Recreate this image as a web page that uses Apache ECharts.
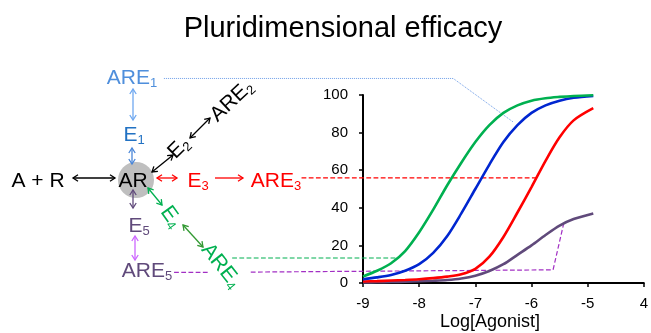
<!DOCTYPE html>
<html>
<head>
<meta charset="utf-8">
<script src="https://cdn.jsdelivr.net/npm/echarts@6/dist/echarts.min.js"></script>
<style>
  html, body { margin: 0; padding: 0; background: #fff; }
  #chart { width: 651px; height: 333px; }
</style>
</head>
<body>
<div id="chart"></div>
<script>
// log[agonist] sample points
const logAgonist = [-9, -8.75, -8.5, -8.25, -8, -7.75, -7.5, -7.25, -7, -6.75, -6.5, -6.25, -6, -5.75, -5.5, -5.25, -4.9];
const greenResp = [3.5, 6.5, 10.5, 17, 27, 39, 52, 64, 75, 84, 90.5, 94.5, 97, 98.3, 99, 99.5, 99.9];
const blueResp = [2, 3, 4.3, 6.5, 10, 16, 25, 37, 50, 63, 75, 84, 90.5, 94.5, 97, 98.5, 99.5];
const redResp = [0.8, 1, 1.3, 1.6, 2, 2.6, 3.4, 4.6, 7.5, 14, 24.5, 37.5, 51, 65, 77.5, 86.5, 93];
const purpleResp = [0.3, 0.4, 0.5, 0.7, 0.9, 1.2, 1.6, 2.4, 3.9, 6.4, 10, 15, 20, 25.5, 30.5, 34, 37];

const xTickLabels = ['-9', '-8', '-7', '-6', '-5', '4'];
const yTicks = [0, 20, 40, 60, 80, 100];

// connector lines from the scheme labels to the curves (same log scale, run left of the plot)
const blueLink = [[-12.53, 108.8], [-7.4, 108.8], [-6.34, 85.7]];
const redLink = [[-10.09, 55.9], [-5.91, 55.9]];
const greenLink = [[-11.32, 13.3], [-8.4, 13.3]];
const purpleLinkA = [[-12.35, 5.6], [-11.73, 5.7]];
const purpleLinkB = [[-10.99, 5.8], [-5.63, 7.0], [-5.44, 31.8]];

const FONT = 'Liberation Sans';
const PLOT_LEFT = 363, PLOT_RIGHT = 6;
// wide hidden axis sharing the plot's px-per-unit, so the connectors can reach the scheme
const wideMin = -9 - PLOT_LEFT * 5 / (651 - PLOT_LEFT - PLOT_RIGHT);

const pair = (ys) => logAgonist.map((x, i) => [x, ys[i]]);

function arrow(x1, y1, x2, y2, color, both) {
  const dx = x2 - x1, dy = y2 - y1;
  const len = Math.sqrt(dx * dx + dy * dy);
  const ux = dx / len, uy = dy / len;
  const L = 5, W = 3.2;
  const head = (tx, ty, sx, sy) => ({
    type: 'polyline',
    shape: { points: [
      [tx - L * sx - W * sy, ty - L * sy + W * sx],
      [tx, ty],
      [tx - L * sx + W * sy, ty - L * sy - W * sx]
    ] },
    style: { stroke: color, lineWidth: 1.3, fill: null }
  });
  const els = [
    { type: 'line', shape: { x1, y1, x2, y2 }, style: { stroke: color, lineWidth: 1.3 } },
    head(x2, y2, ux, uy)
  ];
  if (both) els.push(head(x1, y1, -ux, -uy));
  return els;
}

function label(text, x, y, color, rotation) {
  return {
    type: 'text',
    x, y,
    rotation: rotation || 0,
    style: {
      text,
      fill: color,
      fontSize: 21,
      fontFamily: FONT,
      lineHeight: 24,
      align: 'center',
      verticalAlign: 'middle',
      rich: {
        s: { fontSize: 13, fontFamily: FONT, lineHeight: 13, verticalAlign: 'bottom', fill: color }
      }
    }
  };
}

const scheme = [
  { type: 'circle', shape: { cx: 136, cy: 180, r: 18 }, style: { fill: '#bfbfbf' } },
  label('A + R', 38, 181, '#000'),
  label('AR', 133, 181, '#000'),
  label('ARE{s|1}', 132, 78, '#4f8fdc'),
  label('E{s|1}', 134, 135, '#2272c3'),
  label('E{s|2}', 179, 148, '#000', 0.78),
  label('ARE{s|2}', 232, 101, '#000', 0.75),
  label('E{s|3}', 198, 181, '#ff0000'),
  label('ARE{s|3}', 276, 181, '#ff0000'),
  label('E{s|4}', 171, 217, '#00b050', -0.95),
  label('ARE{s|4}', 221, 266, '#00b050', -0.9),
  label('E{s|5}', 139, 226, '#604a7b'),
  label('ARE{s|5}', 147, 271, '#604a7b'),
  ...arrow(133, 89, 133, 120, '#6fa8f0', true),
  ...arrow(132, 148, 132, 164, '#4a86d8', true),
  ...arrow(73, 178, 115, 178, '#000', true),
  ...arrow(152, 172, 173, 155, '#000', true),
  ...arrow(190, 138, 210, 118, '#000', true),
  ...arrow(157, 178, 177, 178, '#ff0000', true),
  ...arrow(215, 178, 243, 178, '#ff0000', false),
  ...arrow(133, 190, 133, 208, '#604a7b', true),
  ...arrow(135, 236, 135, 260, '#cc66ff', true),
  ...arrow(148, 188, 162, 205, '#00b050', true),
  ...arrow(183, 225, 203, 247, '#339933', true),
  {
    type: 'text', x: 490, y: 322,
    style: { text: 'Log[Agonist]', fill: '#000', fontSize: 18, fontFamily: FONT, align: 'center', verticalAlign: 'middle' }
  }
];

const chart = echarts.init(document.getElementById('chart'));

const curve = (name, ys, color) => ({
  name, type: 'line', data: pair(ys), smooth: 0.3, showSymbol: false,
  lineStyle: { color, width: 2.6 }, z: 3
});
const link = (data, color, type, width) => ({
  type: 'line', data, clip: false, showSymbol: false, silent: true,
  xAxisIndex: 1, yAxisIndex: 1,
  lineStyle: { color, width: width || 1.2, type }, z: 2
});

chart.setOption({
  animation: false,
  backgroundColor: '#fff',
  title: {
    text: 'Pluridimensional efficacy',
    left: 338, top: 9, textAlign: 'center',
    textStyle: { fontSize: 29, fontWeight: 'normal', fontFamily: FONT, color: '#000' }
  },
  grid: [
    { left: PLOT_LEFT, right: PLOT_RIGHT, top: 95, bottom: 50 },
    { left: 0, right: PLOT_RIGHT, top: 95, bottom: 50 }
  ],
  xAxis: [{
    type: 'value', min: -9, max: -4, interval: 1,
    splitLine: { show: false },
    axisLine: { lineStyle: { color: '#000', width: 2 } },
    axisTick: { length: 4, lineStyle: { color: '#000', width: 1.5 } },
    axisLabel: {
      margin: 13, color: '#000', fontSize: 15, fontFamily: FONT,
      formatter: (v) => xTickLabels[Math.round(v + 9)]
    }
  }, {
    type: 'value', gridIndex: 1, min: wideMin, max: -4, show: false
  }],
  yAxis: [{
    type: 'value', min: yTicks[0], max: yTicks[yTicks.length - 1], interval: 20,
    splitLine: { show: false },
    axisLine: { show: true, lineStyle: { color: '#000', width: 2 } },
    axisTick: { show: true, length: 4, lineStyle: { color: '#000', width: 1.5 } },
    axisLabel: { margin: 15, color: '#000', fontSize: 15, fontFamily: FONT }
  }, {
    type: 'value', gridIndex: 1, min: 0, max: 100, show: false
  }],
  graphic: scheme,
  series: [
    link(blueLink, '#6f9ee8', 'dotted', 1),
    link(redLink, '#ff0000', 'dashed'),
    link(greenLink, '#00b050', 'dashed'),
    link(purpleLinkA, '#a22fc4', 'dashed'),
    link(purpleLinkB, '#a22fc4', 'dashed'),
    curve('E5', purpleResp, '#604a7b'),
    curve('E3', redResp, '#ff0000'),
    curve('E1', blueResp, '#0026d0'),
    curve('E4', greenResp, '#00b050')
  ]
});
</script>
</body>
</html>
